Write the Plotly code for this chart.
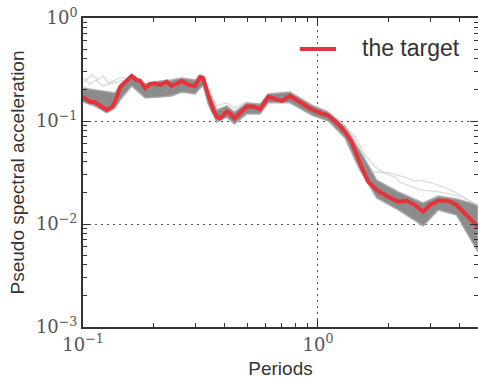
import plotly.graph_objects as go

# ---- target spectrum (red) ----
periods = [0.100, 0.107, 0.112, 0.118, 0.126, 0.132, 0.137, 0.144, 0.151, 0.161,
           0.169, 0.175, 0.184, 0.193, 0.202, 0.213, 0.227, 0.238, 0.250, 0.263,
           0.281, 0.300, 0.315, 0.325, 0.341, 0.358, 0.371, 0.383, 0.409, 0.422,
           0.441, 0.466, 0.497, 0.531, 0.567, 0.615, 0.656, 0.701, 0.760, 0.811,
           0.866, 0.940, 1.02, 1.107, 1.202, 1.303, 1.391, 1.509, 1.637, 1.778,
           1.960, 2.197, 2.384, 2.585, 2.806, 2.997, 3.253, 3.583, 3.89, 4.29,
           4.73, 4.8]
target = [0.171, 0.154, 0.153, 0.140, 0.128, 0.135, 0.154, 0.215, 0.241, 0.273,
          0.250, 0.246, 0.208, 0.229, 0.232, 0.224, 0.241, 0.220, 0.229, 0.246,
          0.224, 0.219, 0.266, 0.260, 0.178, 0.128, 0.110, 0.106, 0.123, 0.119,
          0.106, 0.120, 0.138, 0.138, 0.130, 0.172, 0.162, 0.156, 0.175, 0.160,
          0.143, 0.130, 0.120, 0.113, 0.0962, 0.0787, 0.0630, 0.0388, 0.0258, 0.0214,
          0.0187, 0.0165, 0.0168, 0.0153, 0.0132, 0.0153, 0.0168, 0.0168, 0.0153, 0.0122,
          0.00978, 0.0094]
target_name = "the target"

# ---- envelope of the bundle of selected records (dark grey) ----
band_periods = [0.100, 0.112, 0.126, 0.137, 0.144, 0.161, 0.184, 0.213, 0.238, 0.263,
                0.300, 0.315, 0.325, 0.341, 0.371, 0.409, 0.441, 0.497, 0.567, 0.615,
                0.760, 0.940, 1.107, 1.303, 1.509, 1.778, 2.197, 2.806, 3.253, 3.89, 4.8]
band_upper = [0.209, 0.200, 0.191, 0.187, 0.224, 0.286, 0.229, 0.245, 0.250, 0.262,
              0.250, 0.280, 0.273, 0.200, 0.128, 0.140, 0.122, 0.150, 0.146, 0.183,
              0.191, 0.143, 0.122, 0.0894, 0.0523, 0.0267, 0.0205, 0.0160, 0.0187, 0.0175, 0.0153]
band_lower = [0.153, 0.140, 0.120, 0.134, 0.160, 0.219, 0.167, 0.171, 0.175, 0.191,
              0.183, 0.209, 0.219, 0.146, 0.0977, 0.109, 0.0935, 0.117, 0.117, 0.150,
              0.150, 0.114, 0.100, 0.0684, 0.0334, 0.0179, 0.0137, 0.00957, 0.0137, 0.0122, 0.00535]

# ---- a few outlying records (light grey) ----
light1_periods = [0.100, 0.105, 0.110, 0.116, 0.122, 0.128, 0.137, 0.144, 0.151]
light1_values = [0.239, 0.262, 0.280, 0.250, 0.273, 0.234, 0.250, 0.262, 0.265]
light2_periods = [0.100, 0.107, 0.1135, 0.1205, 0.130, 0.141, 0.151]
light2_values = [0.262, 0.229, 0.250, 0.219, 0.229, 0.241, 0.250]
light3_periods = [1.107, 1.24, 1.44, 1.585, 1.75, 1.93, 2.13, 2.23, 2.72, 3.30, 4.02, 4.8]
light3_values = [0.122, 0.100, 0.070, 0.047, 0.036, 0.031, 0.0285, 0.0255, 0.0214, 0.0205, 0.0187, 0.0153]
light4_periods = [1.303, 1.509, 1.714, 2.02, 2.39, 2.59, 2.72, 3.05, 3.40, 3.90, 4.57, 4.8]
light4_values = [0.085, 0.052, 0.0320, 0.0313, 0.0280, 0.0261, 0.0267, 0.0250, 0.0229, 0.0200, 0.0160, 0.0150]
light5_periods = [0.341, 0.371, 0.409, 0.441, 0.497]
light5_values = [0.215, 0.140, 0.150, 0.132, 0.155]

# ---- axis ticks ----
x_tickvals = [0.1, 1]
x_ticktext = ["10<sup>\u22121</sup>", "10<sup>0</sup>"]
y_tickvals = [0.001, 0.01, 0.1, 1]
y_ticktext = ["10<sup>\u22123</sup>", "10<sup>\u22122</sup>", "10<sup>\u22121</sup>", "10<sup>0</sup>"]
x_minor = [0.2, 0.3, 0.4, 0.5, 0.6, 0.7, 0.8, 0.9, 2, 3, 4]
y_minor = [m * d for d in (0.001, 0.01, 0.1) for m in range(2, 10)]

RED = "#e5323b"

fig = go.Figure()

fig.add_trace(go.Scatter(
    x=band_periods + band_periods[::-1],
    y=band_upper + band_lower[::-1],
    fill="toself", mode="lines",
    line=dict(color="rgba(170,170,170,0.9)", width=1.5),
    fillcolor="rgb(140,140,140)",
    showlegend=False, hoverinfo="skip"))

for xs, ys in [(light1_periods, light1_values), (light2_periods, light2_values),
               (light3_periods, light3_values), (light4_periods, light4_values),
               (light5_periods, light5_values)]:
    fig.add_trace(go.Scatter(x=xs, y=ys, mode="lines",
                             line=dict(color="rgba(205,205,205,0.75)", width=1.3),
                             showlegend=False, hoverinfo="skip"))

fig.add_trace(go.Scatter(x=periods, y=target, mode="lines", name=target_name,
                         line=dict(color=RED, width=4), showlegend=False))

# legend key drawn as a short line plus its label
fig.add_shape(type="line", xref="paper", yref="paper",
              x0=0.5494, x1=0.6405, y0=0.8997, y1=0.8997,
              line=dict(color=RED, width=4))
fig.add_annotation(xref="paper", yref="paper", x=0.7, y=0.902,
                   xanchor="left", yanchor="middle", showarrow=False,
                   text=target_name,
                   font=dict(family="Liberation Sans, Arial, sans-serif", size=23, color="#333333"))

axis_common = dict(
    type="log", showline=True, linecolor="#333333", linewidth=2, mirror="ticks",
    ticks="inside", ticklen=8, tickwidth=1.2, tickcolor="#333333",
    showgrid=True, gridcolor="#555555", gridwidth=1, griddash="2px,4px",
    zeroline=False, tickmode="array",
    tickfont=dict(family="DejaVu Serif, Liberation Serif, serif", size=18, color="#555555"),
)

fig.update_xaxes(**axis_common, tickvals=x_tickvals, ticktext=x_ticktext,
                 range=[-1, 0.6812],
                 minor=dict(ticks="inside", ticklen=4, tickcolor="#333333",
                            tickvals=x_minor, showgrid=False),
                 title=dict(text="Periods", standoff=8,
                            font=dict(family="Liberation Sans, Arial, sans-serif", size=19, color="#333333")))
fig.update_yaxes(**axis_common, tickvals=y_tickvals, ticktext=y_ticktext,
                 range=[-3, 0],
                 minor=dict(ticks="inside", ticklen=4, tickcolor="#333333",
                            tickvals=y_minor, showgrid=False),
                 title=dict(text="Pseudo spectral acceleration", standoff=6,
                            font=dict(family="Liberation Sans, Arial, sans-serif", size=19, color="#333333")))

fig.update_layout(
    width=478, height=379,
    margin=dict(l=83, r=0, t=18, b=52, autoexpand=False),
    paper_bgcolor="white", plot_bgcolor="white",
    showlegend=False,
)

fig.write_html("out.html")
